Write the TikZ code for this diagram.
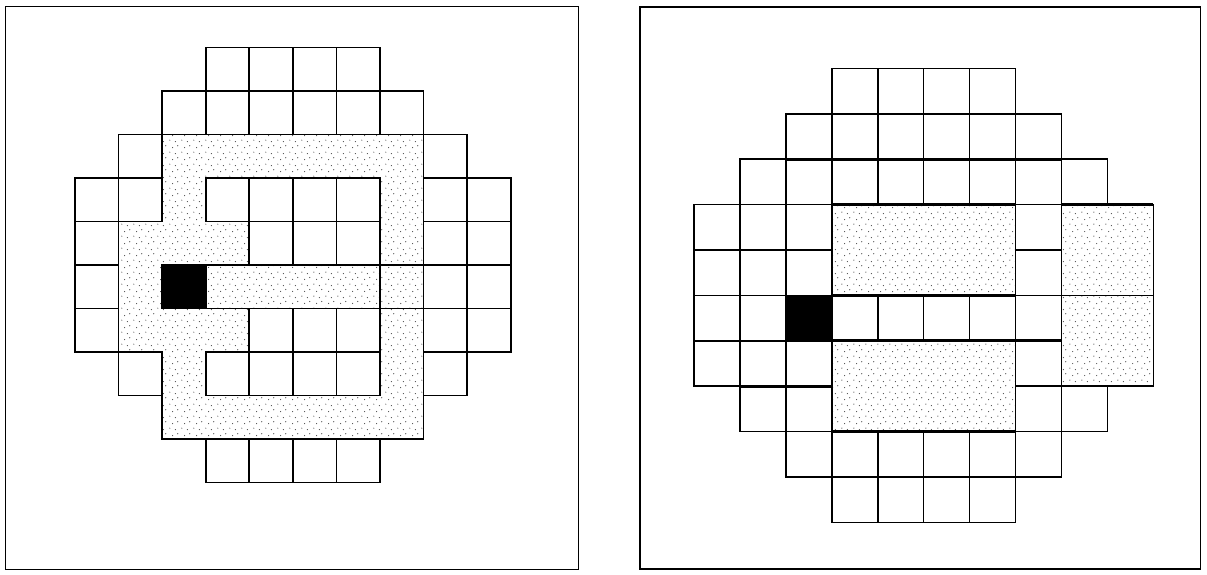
\documentclass[tikz,border=0pt]{standalone}
\usetikzlibrary{patterns}
% sparse stipple used for the shaded zones
\pgfdeclarepatternformonly{stipple}{\pgfqpoint{0pt}{0pt}}{\pgfqpoint{12pt}{12pt}}{\pgfqpoint{12pt}{12pt}}{%
  \pgfpathcircle{\pgfqpoint{2pt}{3pt}}{0.65pt}%
  \pgfpathcircle{\pgfqpoint{8pt}{1.5pt}}{0.65pt}%
  \pgfpathcircle{\pgfqpoint{5pt}{8pt}}{0.65pt}%
  \pgfpathcircle{\pgfqpoint{10.5pt}{10pt}}{0.65pt}%
  \pgfusepath{fill}}
\tikzset{
  panel/.style ={draw, line width=1.6pt},
  cell/.style  ={draw, fill=white, inner sep=0pt, line width=1.6pt},
  zone/.style  ={preaction={fill=white}, pattern=stipple, pattern color=black!70, draw, line width=1.6pt},
  fuel/.style  ={draw, fill=black, line width=1.6pt},
  heavy/.style ={line width=2.8pt}
}

\begin{document}
\begin{tikzpicture}[x=1pt,y=-1pt]
  \useasboundingbox (0,0) rectangle (1207,574);
  \draw[panel] (5.5,6.5) rectangle (578.5,569.5);
  \draw[panel] (640,7) rectangle (1200.5,569);
  % left core: ring pattern
  \begin{scope}[shift={(75,47.3)}, x=43.57pt, y=-43.5pt]
    \foreach \r/\a/\b in {0/3/6, 1/2/7, 2/1/8, 3/0/9, 4/0/9, 5/0/9, 6/0/9, 7/1/8, 8/2/7, 9/3/6}
      \foreach \c in {\a,...,\b}
        \node[cell, minimum width=43.57pt, minimum height=43.5pt] (L-\r-\c) at (\c+0.5,\r+0.5) {};
    \draw[zone] (2,2) -- (8,2) -- (8,5) -- (7,5) -- (7,3) -- (3,3) -- (3,4) -- (4,4) -- (4,5)
      -- (2,5) -- (2,6) -- (4,6) -- (4,7) -- (3,7) -- (3,8) -- (7,8) -- (7,6) -- (8,6)
      -- (8,9) -- (2,9) -- (2,7) -- (1,7) -- (1,4) -- (2,4) -- cycle;
    \draw[zone] (3,5) rectangle (7,6);
    \draw[zone] (7,5) rectangle (8,6);
    \draw[fuel] (2,5) rectangle (3,6);
  \end{scope}
  % right core: block pattern
  \begin{scope}[shift={(694,68.3)}, x=45.93pt, y=-45.4pt]
    \foreach \r/\a/\b in {0/3/6, 1/2/7, 2/1/8, 3/0/9, 4/0/9, 5/0/9, 6/0/9, 7/1/8, 8/2/7, 9/3/6}
      \foreach \c in {\a,...,\b}
        \node[cell, minimum width=45.93pt, minimum height=45.4pt] (R-\r-\c) at (\c+0.5,\r+0.5) {};
    \draw[zone] (3,3) rectangle (7,5);
    \draw[zone] (3,6) rectangle (7,8);
    \draw[zone] (8,3) rectangle (10,5);
    \draw[zone] (8,5) rectangle (10,7);
    \draw[fuel] (2,5) rectangle (3,6);
    \draw[heavy] (2,2) -- (8,2);
    \draw[heavy] (3,3) -- (7,3) (8,3) -- (10,3);
    \draw[heavy] (1,4) -- (3,4);
    \draw[heavy] (3,5) -- (7,5);
    \draw[heavy] (3,6) -- (8,6);
    \draw[heavy] (1,7) -- (3,7);
    \draw[heavy] (3,8) -- (7,8);
    \draw[heavy] (2,9) -- (8,9);
  \end{scope}
\end{tikzpicture}
\end{document}
